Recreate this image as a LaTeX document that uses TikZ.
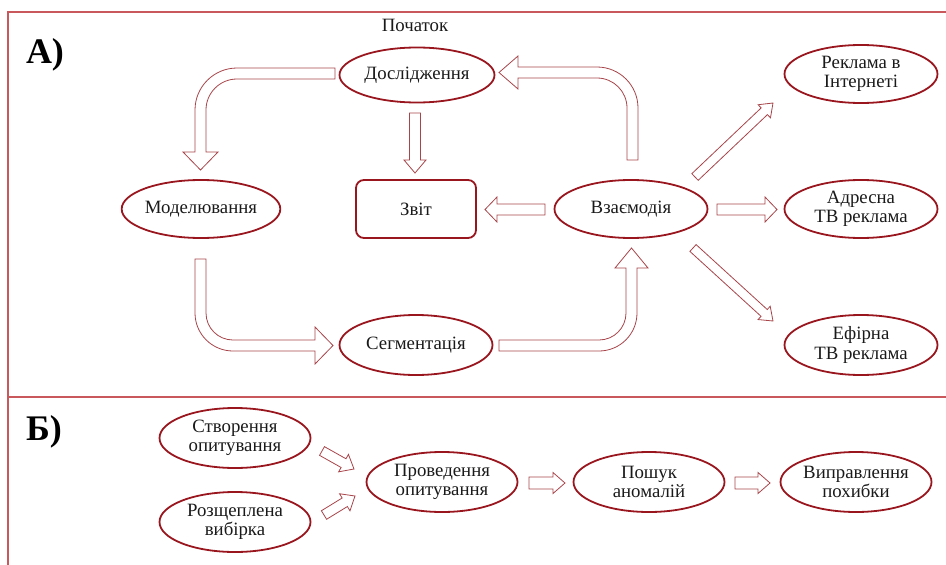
\documentclass[tikz,border=0pt]{standalone}
\usepackage{fontspec}
\setmainfont{Liberation Serif}
\usetikzlibrary{shapes.geometric,calc}
\definecolor{framecol}{HTML}{C9585C}
\definecolor{ellcol}{HTML}{9A161E}
\definecolor{arrcol}{HTML}{A8454A}
\definecolor{txtcol}{HTML}{1A1A1A}
\tikzset{
  ell/.style={ellipse,draw=ellcol,line width=1.8pt,minimum width=153pt,minimum height=58pt,inner sep=0pt,align=center,text=txtcol,font=\fontsize{18.8}{19.5}\selectfont},
  rbox/.style={rectangle,rounded corners=8pt,draw=ellcol,line width=1.8pt,minimum width=120pt,minimum height=58pt,inner sep=0pt,text=txtcol,font=\fontsize{18.8}{19.5}\selectfont},
  barrow/.style={draw=arrcol,line width=0.8pt,fill=white,line join=miter},
  framel/.style={draw=framecol,line width=1.8pt},
  seclabel/.style={font=\fontsize{36}{40}\selectfont\bfseries,text=black,inner sep=0pt},
  plain/.style={font=\fontsize{18.8}{19.5}\selectfont,text=txtcol,inner sep=0pt}
}
% straight block arrow: start, end, shaft half width, head half width, head length
\newcommand\sarrow[5]{%
  \coordinate (hb) at ($(#2)!#5pt!(#1)$);
  \draw[barrow] ($(#1)!#3pt!90:(#2)$) -- ($(hb)!#3pt!-90:(#1)$) -- ($(hb)!#4pt!-90:(#1)$) -- (#2) -- ($(hb)!#4pt!90:(#1)$) -- ($(hb)!#3pt!90:(#1)$) -- ($(#1)!#3pt!-90:(#2)$) -- cycle;}
\begin{document}
\begin{tikzpicture}[x=1pt,y=-1pt]
\useasboundingbox (0,0) rectangle (946,565);
% frame
\draw[framel] (8,566) -- (8,12) -- (947,12);
\draw[framel] (8,397) -- (947,397);
\node[seclabel] (la) at (45,55) {А)};
\node[seclabel] (lb) at (44,432) {Б)};
% section A nodes
\node[plain] (start) at (415,25) {Початок};
\node[ell,minimum width=155pt,minimum height=55pt] (dos) at (417,75) {Дослідження};
\node[ell] (mod) at (201,209) {Моделювання};
\node[rbox] (zvit) at (416,209) {Звіт};
\node[ell] (vz) at (631,209) {Взаємодія};
\node[ell] (rek) at (861,74) {Реклама в\\Інтернеті};
\node[ell] (adr) at (861,209) {Адресна\\ТВ реклама};
\node[ell,minimum height=60pt] (efi) at (861,345) {Ефірна\\ТВ реклама};
\node[ell,minimum height=60pt] (seg) at (416,345) {Сегментація};
% curved block arrows
\draw[barrow] (335,68) -- (237,68) arc[start angle=270,end angle=180,radius=42] -- (195,152) -- (183,152) -- (200.5,170) -- (218,152) -- (206,152) -- (206,110) arc[start angle=180,end angle=270,radius=31] -- (335,79) -- cycle;
\draw[barrow] (627,160) -- (638,160) -- (638,108) arc[start angle=0,end angle=-90,radius=41] -- (518,67) -- (518,56) -- (499,72.5) -- (518,89) -- (518,78) -- (597,78) arc[start angle=-90,end angle=0,radius=30] -- cycle;
\draw[barrow] (195,259) -- (195,313) arc[start angle=180,end angle=90,radius=38] -- (315,351) -- (315,364) -- (333,345.5) -- (315,327) -- (315,340) -- (233,340) arc[start angle=90,end angle=180,radius=27] -- (206,259) -- cycle;
\draw[barrow] (499,340) -- (599,340) arc[start angle=90,end angle=0,radius=27] -- (626,268) -- (615,268) -- (631.5,248) -- (648,268) -- (637,268) -- (637,313) arc[start angle=0,end angle=90,radius=38] -- (499,351) -- cycle;
% straight block arrows
\coordinate (a2s) at (415,113); \coordinate (a2e) at (415,173);
\sarrow{a2s}{a2e}{5.5}{11}{13}
\coordinate (a3s) at (545,209.5); \coordinate (a3e) at (485,209.5);
\sarrow{a3s}{a3e}{5.5}{12.5}{12}
\coordinate (a5s) at (717,209.5); \coordinate (a5e) at (777,209.5);
\sarrow{a5s}{a5e}{5.5}{12.5}{12}
\coordinate (a6s) at (695,177); \coordinate (a6e) at (773,103);
\sarrow{a6s}{a6e}{4.6}{9}{12}
\coordinate (a7s) at (693,248); \coordinate (a7e) at (773,321);
\sarrow{a7s}{a7e}{4.6}{9}{12}
% section B
\node[ell,minimum width=151pt,minimum height=60pt] (stv) at (235,438) {Створення\\опитування};
\node[ell,minimum width=151pt,minimum height=60pt] (roz) at (235,522) {Розщеплена\\вибірка};
\node[ell,minimum width=151pt,minimum height=60pt] (prov) at (442,482) {Проведення\\опитування};
\node[ell,minimum width=151pt,minimum height=60pt] (posh) at (649,482) {Пошук\\аномалій};
\node[ell,minimum width=151pt,minimum height=60pt] (vypr) at (856,482) {Виправлення\\похибки};
\coordinate (b1s) at (322,451); \coordinate (b1e) at (354,469);
\sarrow{b1s}{b1e}{5}{10}{12}
\coordinate (b2s) at (324,515); \coordinate (b2e) at (355,496);
\sarrow{b2s}{b2e}{5}{10}{12}
\coordinate (b3s) at (529,483); \coordinate (b3e) at (565,483);
\sarrow{b3s}{b3e}{6}{10.5}{12}
\coordinate (b4s) at (735,483); \coordinate (b4e) at (770,483);
\sarrow{b4s}{b4e}{6}{10.5}{12}
\end{tikzpicture}
\end{document}
